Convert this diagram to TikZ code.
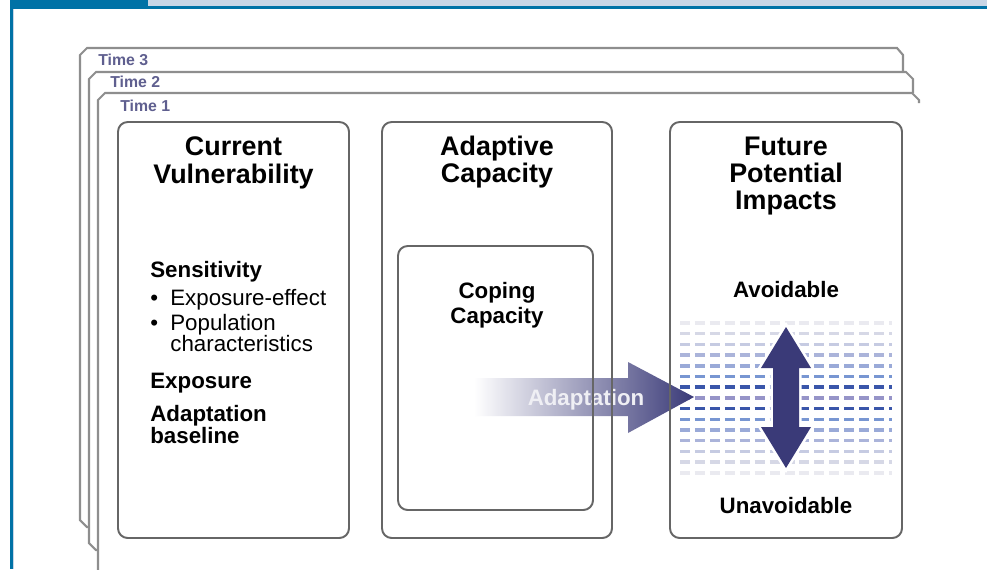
\documentclass[tikz,border=0pt]{standalone}
\usepackage{fontspec}
\setmainfont{Liberation Sans}
\usepackage{tikz}

\definecolor{bandblue}{HTML}{0072A6}
\definecolor{bandlight}{HTML}{C8D6E6}
\definecolor{sheetgray}{HTML}{8E8E8E}
\definecolor{boxgray}{HTML}{666666}
\definecolor{timetext}{HTML}{5F5F8F}
\definecolor{arrnavy}{HTML}{3A3A78}
\definecolor{arrmid}{HTML}{AEAED0}
\definecolor{dshA}{HTML}{EAEAF0}
\definecolor{dshB}{HTML}{D6D8E6}
\definecolor{dshC}{HTML}{C6CBE2}
\definecolor{dshD}{HTML}{ABB4DA}
\definecolor{dshE}{HTML}{9AAAD8}
\definecolor{dshF}{HTML}{7896D2}
\definecolor{dshG}{HTML}{3A56AA}
\definecolor{dshH}{HTML}{9694C8}

\begin{document}
\begin{tikzpicture}[x=0.02cm,y=-0.02cm]
    \tikzstyle{every node}+=[inner sep=0pt]
    \tikzstyle{head}=[font=\fontsize{15.3}{16}\selectfont\bfseries, anchor=base]
    \tikzstyle{body}=[font=\fontsize{12.7}{13}\selectfont, anchor=base west]
    \tikzstyle{term}=[font=\fontsize{12.7}{13}\selectfont\bfseries, anchor=base west]
    \tikzstyle{subhead}=[font=\fontsize{12.7}{13}\selectfont\bfseries, anchor=base]
    \tikzstyle{timelabel}=[font=\fontsize{9}{9}\selectfont\bfseries, text=timetext, anchor=base west]
    \tikzstyle{sheet}=[draw=sheetgray, fill=white, line width=1.2pt]
    \tikzstyle{box}=[draw=boxgray, line width=1.1pt, rounded corners=5.5pt]
    \tikzstyle{dashrow}=[line width=2pt, dash pattern=on 5.7pt off 2.8pt]
    \useasboundingbox (0,0) rectangle (987,569);
    \clip (0,0) rectangle (987,569);
    \fill [bandblue] (10,0) rectangle (987,8.5);
    \fill [bandlight] (148,0) rectangle (987,6);
    \fill [bandblue] (10,0) rectangle (12.8,569);
    \fill [bandlight] (12.8,8.5) rectangle (13.8,569);
    \filldraw [sheet] (80,520) -- (80,55) -- (87,48) -- (897,48) -- (903,55) -- (903,520) -- (896,527) -- (87,527) -- cycle;
    \node [timelabel] (t3) at (98,65) {Time 3};
    \filldraw [sheet] (89,543) -- (89,79) -- (96,72) -- (906,72) -- (913,79) -- (913,543) -- (906,550) -- (96,550) -- cycle;
    \node [timelabel] (t2) at (110,87) {Time 2};
    \fill [white] (98,93) rectangle (940,580);
    \draw [sheetgray, line width=1.2pt] (98,580) -- (98,100) -- (105,93) -- (912,93) -- (919,100) -- (919,103);
    \node [timelabel] (t1) at (120,111) {Time 1};
    \foreach \r/\c in {0/dshA,1/dshB,2/dshC,3/dshD,4/dshE,5/dshF,6/dshG,7/dshH,8/dshG,9/dshF,10/dshE,11/dshD,12/dshC,13/dshB,14/dshA}
        \draw [\c, dashrow] (680,{323+10.7*\r}) -- (892,{323+10.7*\r});
    \draw [white, line width=3pt, line join=miter] (786,327) -- (811,368) -- (799,368) -- (799,427) -- (811,427) -- (786,468) -- (761,427) -- (773,427) -- (773,368) -- (761,368) -- cycle;
    \fill [arrnavy] (786,327) -- (811,368) -- (799,368) -- (799,427) -- (811,427) -- (786,468) -- (761,427) -- (773,427) -- (773,368) -- (761,368) -- cycle;
    \shade [left color=white, middle color=arrmid, right color=arrnavy] (474,378) -- (628,378) -- (628,362) -- (694,397) -- (628,433) -- (628,416) -- (474,416) -- cycle;
    \node [subhead, text=white!92!arrnavy] (adapt) at (586,405) {Adaptation};
    \draw [box] (118,122) rectangle (349,538);
    \draw [box] (382,122) rectangle (612,538);
    \draw [box] (398,246) rectangle (593,510);
    \draw [box] (670,122) rectangle (902,538);
    \node [head] (cv1) at (233.5,155) {Current};
    \node [head] (cv2) at (233.5,183) {Vulnerability};
    \node [term] (sens) at (150,277) {Sensitivity};
    \node [body] (b1) at (150,305) {\textbullet};
    \node [body] (expeff) at (170,305) {Exposure-effect};
    \node [body] (b2) at (150,330) {\textbullet};
    \node [body] (pop1) at (170,330) {Population};
    \node [body] (pop2) at (170,351) {characteristics};
    \node [term] (expo) at (150,388) {Exposure};
    \node [term] (base1) at (150,421) {Adaptation};
    \node [term] (base2) at (150,443) {baseline};
    \node [head] (ac1) at (497,155) {Adaptive};
    \node [head] (ac2) at (497,182) {Capacity};
    \node [subhead] (cc1) at (497,298) {Coping};
    \node [subhead] (cc2) at (497,323) {Capacity};
    \node [head] (fpi1) at (786,155) {Future};
    \node [head] (fpi2) at (786,182) {Potential};
    \node [head] (fpi3) at (786,209) {Impacts};
    \node [subhead] (avoid) at (786,297) {Avoidable};
    \node [subhead] (unavoid) at (786,513) {Unavoidable};
\end{tikzpicture}
\end{document}
